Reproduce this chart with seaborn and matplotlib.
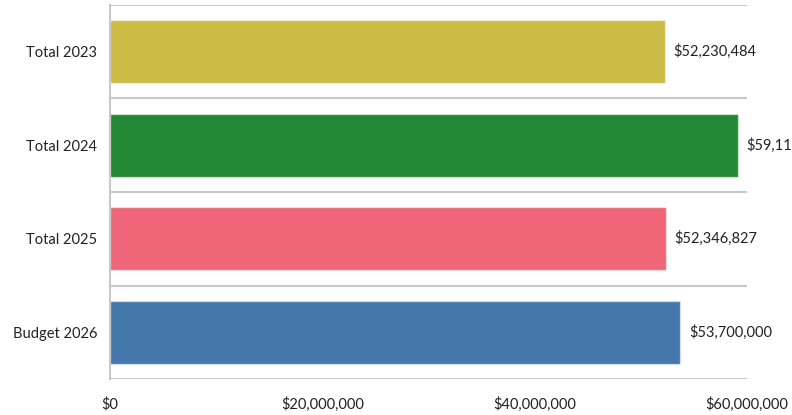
import matplotlib
matplotlib.use("Agg")
import matplotlib.pyplot as plt
import seaborn as sns
import pandas as pd
from matplotlib.ticker import FuncFormatter, FixedLocator

categories = ["Total 2023", "Total 2024", "Total 2025", "Budget 2026"]
values = [52230484, 59115000, 52346827, 53700000]
colors = ["#CCBB44", "#228833", "#EE6677", "#4477AA"]
xticks = [0, 20000000, 40000000, 60000000]

sns.set_theme(style="white")
plt.rcParams["font.family"] = ["Lato", "DejaVu Sans"]

df = pd.DataFrame({"cat": categories, "val": values})

fig = plt.figure(figsize=(7.92, 4.15), dpi=100)
ax = fig.add_axes([110/792, 1-379/415, (747-110)/792, (379-5)/415])

sns.barplot(data=df, y="cat", x="val", hue="cat", palette=colors, orient="h",
            width=0.67, legend=False, ax=ax, linewidth=1, edgecolor="#ffffff80",
            saturation=1)

for c in ax.containers:
    ax.bar_label(c, labels=[f"${v:,.0f}" for v in c.datavalues], padding=6.5,
                 fontsize=10.5, color="#222222", clip_on=False)

ax.set_xlim(0, 60000000)
ax.set_ylim(3.5, -0.5)
ax.xaxis.set_major_locator(FixedLocator(xticks))
ax.xaxis.set_major_formatter(FuncFormatter(lambda v, p: f"${v:,.0f}"))
ax.yaxis.set_minor_locator(FixedLocator([-0.5, 0.5, 1.5, 2.5, 3.5]))
ax.grid(which="minor", axis="y", color="#C8C8C8", linewidth=1.5)
ax.grid(which="major", visible=False)
ax.set_axisbelow(True)
ax.set_xlabel("")
ax.set_ylabel("")
for s in ["top", "right", "bottom"]:
    ax.spines[s].set_visible(False)
ax.spines["left"].set_color("#C8C8C8")
ax.spines["left"].set_linewidth(1.5)
ax.tick_params(axis="x", length=0, pad=13, labelsize=10.5, labelcolor="#222222")
ax.tick_params(axis="y", which="both", length=0, pad=9, labelsize=10.5, labelcolor="#222222")

fig.savefig("out.png", dpi=100)
